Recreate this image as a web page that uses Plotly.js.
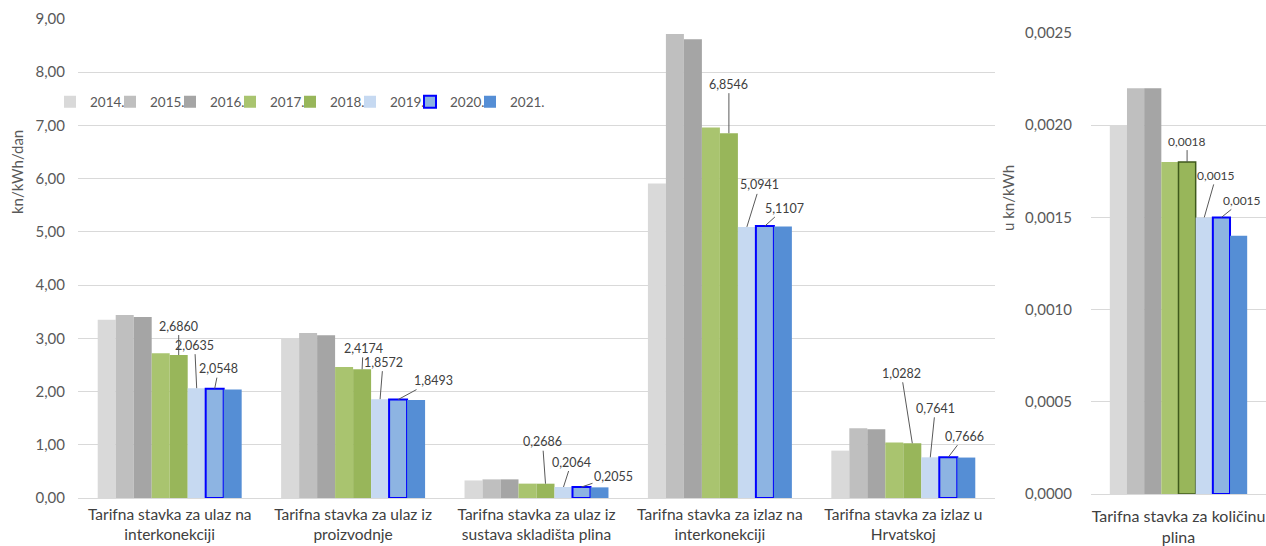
<!DOCTYPE html>
<html><head><meta charset="utf-8">
<script src="https://cdn.plot.ly/plotly-3.0.1.min.js"></script>
<style>html,body{margin:0;padding:0;background:#fff}#chart{width:1266px;height:546px}</style>
</head><body><div id="chart"></div>
<script>
// ---- data ----
const years = ['2014.', '2015.', '2016.', '2017.', '2018.', '2019.', '2020.', '2021.'];
const categories = [
  'Tarifna stavka za ulaz na<br>interkonekciji',
  'Tarifna stavka za ulaz iz<br>proizvodnje',
  'Tarifna stavka za ulaz iz<br>sustava skladišta plina',
  'Tarifna stavka za izlaz na<br>interkonekciji',
  'Tarifna stavka za izlaz u<br>Hrvatskoj'
];
const categoryRight = ['Tarifna stavka za količinu<br>plina'];

const v2014 = [3.35, 3.00, 0.33, 5.91, 0.89];
const v2015 = [3.44, 3.10, 0.35, 8.72, 1.31];
const v2016 = [3.40, 3.06, 0.35, 8.62, 1.29];
const v2017 = [2.72, 2.46, 0.27, 6.96, 1.045];
const v2018 = [2.6860, 2.4174, 0.2686, 6.8546, 1.0282];
const v2019 = [2.0635, 1.8572, 0.2064, 5.0941, 0.7641];
const v2020 = [2.0548, 1.8493, 0.2055, 5.1107, 0.7666];
const v2021 = [2.04, 1.84, 0.20, 5.10, 0.76];

const r2014 = [0.0020];
const r2015 = [0.0022];
const r2016 = [0.0022];
const r2017 = [0.0018];
const r2018 = [0.0018];
const r2019 = [0.0015];
const r2020 = [0.0015];
const r2021 = [0.0014];

const yTicksLeft = [0, 1, 2, 3, 4, 5, 6, 7, 8, 9];
const yTicksRight = [0, 0.0005, 0.0010, 0.0015, 0.0020, 0.0025];

// ---- styling ----
const leftSeries = [v2014, v2015, v2016, v2017, v2018, v2019, v2020, v2021];
const rightSeries = [r2014, r2015, r2016, r2017, r2018, r2019, r2020, r2021];
const colors = ['#d9d9d9', '#bfbfbf', '#a5a5a5', '#a9c46f', '#98b65a', '#c6d9f1', '#8db4e2', '#558ed5'];
const lineLeft = [null, null, null, null, null, null, {color: '#0000ff', width: 2}, null];
const lineRight = [null, null, null, null, {color: '#3f5a1c', width: 1.5}, null, {color: '#0000ff', width: 2}, null];
const labelled = [4, 5, 6];
const offLeft = { // [ax, ay] per series per category
  4: [[0, -29], [1, -21], [-3, -42], [0, -49], [-11, -70]],
  5: [[-2, -43], [3, -37], [8, -25], [13, -42], [5, -49]],
  6: [[4, -20], [35, -19], [32, -11], [20, -18], [16, -21]]
};
const offRight = {4: [0, -21], 5: [12, -42], 6: [21, -17]};
const bargap = 0.215;
const fmt = v => v.toFixed(4).replace('.', ',');

const traces = [];
years.forEach((y, i) => {
  const mk = {color: colors[i]};
  mk.line = lineLeft[i] ? lineLeft[i] : {width: 0};
  traces.push({type: 'bar', name: y, x: categories, y: leftSeries[i], marker: mk,
    xaxis: 'x', yaxis: 'y', hoverinfo: 'skip',
    legendwidth: i === years.length - 1 ? 36 : 15});
});
years.forEach((y, i) => {
  const mk = {color: colors[i]};
  mk.line = lineRight[i] ? lineRight[i] : {width: 0};
  traces.push({type: 'bar', name: y, x: categoryRight, y: rightSeries[i], marker: mk,
    xaxis: 'x2', yaxis: 'y2', showlegend: false, hoverinfo: 'skip'});
});

const w = (1 - bargap) / years.length;
const annotations = [];
labelled.forEach(s => {
  leftSeries[s].forEach((v, c) => {
    annotations.push({xref: 'x', yref: 'y', x: c + (s - 3.5) * w, y: v, text: fmt(v),
      showarrow: true, arrowhead: 0, arrowwidth: 1, arrowcolor: '#595959', standoff: 0,
      ax: offLeft[s][c][0], ay: offLeft[s][c][1],
      font: {family: 'Lato', size: 12.5, color: '#404040'}});
  });
  rightSeries[s].forEach((v, c) => {
    annotations.push({xref: 'x2', yref: 'y2', x: c + (s - 3.5) * w, y: v, text: fmt(v),
      showarrow: true, arrowhead: 0, arrowwidth: 1, arrowcolor: '#595959', standoff: 0,
      ax: offRight[s][0], ay: offRight[s][1],
      font: {family: 'Lato', size: 12, color: '#404040'}});
  });
});
annotations.push({xref: 'paper', yref: 'paper', x: 17 / 1266, y: (546 - 172) / 546,
  text: 'kn/kWh/dan', textangle: -90, showarrow: false, xanchor: 'center', yanchor: 'middle',
  font: {family: 'Lato', size: 15, color: '#595959'}});
annotations.push({xref: 'paper', yref: 'paper', x: 1008 / 1266, y: (546 - 198) / 546,
  text: 'u kn/kWh', textangle: -90, showarrow: false, xanchor: 'center', yanchor: 'middle',
  font: {family: 'Lato', size: 15, color: '#595959'}});

const tickFont = {family: 'Lato', size: 15, color: '#595959'};
const xFont = {family: 'Lato', size: 16, color: '#404040'};
const xFontLeft = {family: 'Lato', size: 15.5, color: '#404040'};
const layout = {
  width: 1266, height: 546,
  margin: {l: 0, r: 0, t: 0, b: 0},
  paper_bgcolor: '#ffffff', plot_bgcolor: '#ffffff',
  separators: ', ',
  barmode: 'group', bargap: bargap, bargroupgap: 0,
  font: {family: 'Lato', color: '#595959'},
  showlegend: true,
  legend: {orientation: 'h', x: 50 / 1266, xanchor: 'left', y: (546 - 102) / 546, yanchor: 'middle',
    bgcolor: 'rgba(0,0,0,0)', font: {family: 'Lato', size: 13.5, color: '#595959'},
    itemclick: false, itemdoubleclick: false},
  xaxis: {domain: [78 / 1266, 995 / 1266], type: 'category', showgrid: false, showline: true,
    linecolor: '#d9d9d9', linewidth: 1, ticks: '', tickfont: xFontLeft, ticklabelstandoff: 2,
    fixedrange: true, anchor: 'y'},
  yaxis: {domain: [(546 - 498) / 546, (546 - 19) / 546], range: [0, 9], tickvals: yTicksLeft,
    tickformat: '.2f', showgrid: true, gridcolor: '#d9d9d9', gridwidth: 1, zeroline: false,
    ticks: '', tickfont: tickFont, ticklabelstandoff: 12, fixedrange: true, anchor: 'x'},
  xaxis2: {domain: [1091 / 1266, 1], type: 'category', showgrid: false, showline: true,
    linecolor: '#d9d9d9', linewidth: 1, ticks: '', tickfont: xFont, ticklabelstandoff: 8,
    fixedrange: true, anchor: 'y2'},
  yaxis2: {domain: [(546 - 494) / 546, (546 - 33) / 546], range: [0, 0.0025], tickvals: yTicksRight,
    tickformat: '.4f', showgrid: true, gridcolor: '#d9d9d9', gridwidth: 1, zeroline: false,
    ticks: '', tickfont: tickFont, ticklabelstandoff: 18, fixedrange: true, anchor: 'x2'},
  annotations: annotations
};
Plotly.newPlot('chart', traces, layout, {displayModeBar: false, staticPlot: true});
</script>
</body></html>
